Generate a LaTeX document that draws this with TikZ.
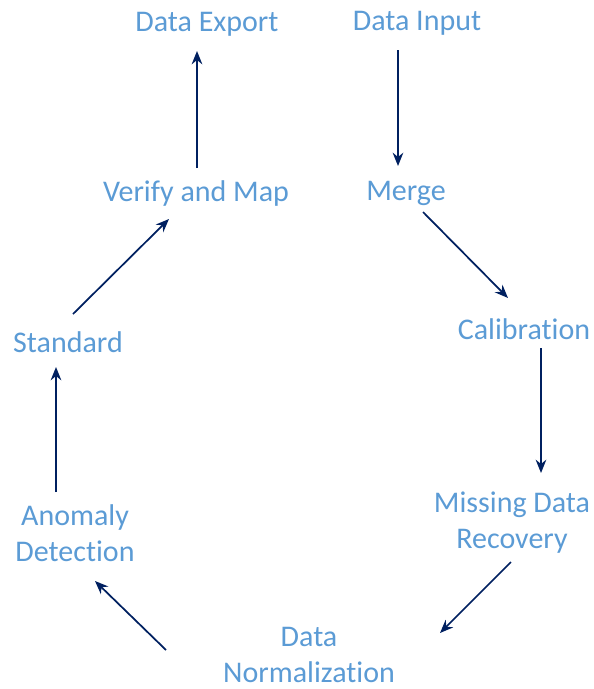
\documentclass[tikz,border=0pt]{standalone}
\usepackage{fontspec}
\setmainfont[Ligatures=NoCommon]{Carlito}
\usetikzlibrary{arrows.meta}
\definecolor{lbl}{RGB}{91,155,213}
\definecolor{arr}{RGB}{0,32,96}
\begin{document}
\begin{tikzpicture}[x=0.75pt,y=-0.75pt,
  lab/.style={text=lbl,font=\fontsize{22.5}{27}\selectfont,align=center,inner sep=0pt},
  con/.style={draw=arr,line width=1.3pt,-{Stealth[length=10pt,width=8pt]}}]
\useasboundingbox (0,0) rectangle (593,689);
\node[lab] (export) at (207,24) {Data Export};
\node[lab] (input) at (417,23) {Data Input};
\node[lab] (merge) at (406,193) {Merge};
\node[lab] (verify) at (196,193) {Verify and Map};
\node[lab] (standard) at (68,342) {Standard};
\node[lab] (calib) at (524,329) {Calibration};
\node[lab] (missing) at (512,523) {Missing Data\\Recovery};
\node[lab] (anomaly) at (75,533) {Anomaly\\Detection};
\node[lab] (norm) at (309,655) {Data\\Normalization};
\coordinate (a1) at (398,50); \coordinate (b1) at (398,166);
\coordinate (a2) at (423,212); \coordinate (b2) at (508,298);
\coordinate (a3) at (541,348); \coordinate (b3) at (541,473);
\coordinate (a4) at (511,562); \coordinate (b4) at (440,633);
\coordinate (a5) at (166,650); \coordinate (b5) at (95,581);
\coordinate (a6) at (56,492); \coordinate (b6) at (56,367);
\coordinate (a7) at (73,314); \coordinate (b7) at (169,219);
\coordinate (a8) at (197,168); \coordinate (b8) at (197,51);
\draw[con] (a1) -- (b1);
\draw[con] (a2) -- (b2);
\draw[con] (a3) -- (b3);
\draw[con] (a4) -- (b4);
\draw[con] (a5) -- (b5);
\draw[con] (a6) -- (b6);
\draw[con] (a7) -- (b7);
\draw[con] (a8) -- (b8);
\end{tikzpicture}
\end{document}
